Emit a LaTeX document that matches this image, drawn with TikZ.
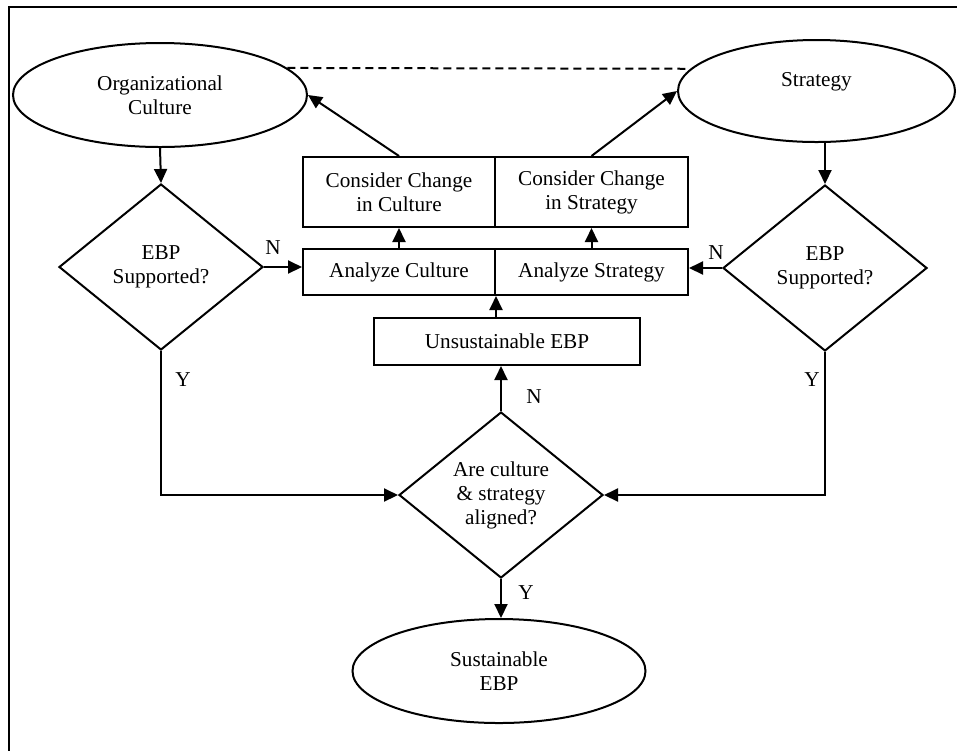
\documentclass[tikz,border=0pt]{standalone}
\usepackage{fontspec}
\setmainfont{Liberation Serif}
\usetikzlibrary{shapes.geometric,arrows.meta}
\begin{document}
\begin{tikzpicture}[x=0.5pt,y=-0.5pt,
  every node/.style={font=\fontsize{10.6}{12}\selectfont, inner sep=0pt, align=center},
  line/.style={line width=1pt},
  arr/.style={line, -{Triangle[length=7pt,width=6.5pt]}},
  oval/.style={draw, line width=1pt, ellipse},
  decision/.style={draw, line width=1pt, diamond, minimum width=102pt, minimum height=83pt},
  box/.style={draw, line width=1pt, rectangle}]
\useasboundingbox (0,0) rectangle (957,751);

% outer frame (top and left edges)
\draw[line] (957,7) -- (9,7) -- (9,751);

% terminals
\node[oval, minimum width=147pt, minimum height=52pt] (oc) at (160,95) {Organizational\\Culture};
\node[oval, minimum width=138.5pt, minimum height=51pt] (st) at (816.5,91) {Strategy\\\mbox{}};
\node[oval, minimum width=146.5pt, minimum height=52pt] (se) at (499,671) {Sustainable\\EBP};

% decisions
\node[decision] (ld) at (161,267) {EBP\\Supported?};
\node[decision] (rd) at (825,268) {EBP\\Supported?};
\node[decision] (cd) at (501,495) {Are culture\\\& strategy\\aligned?};

% process boxes
\node[box, minimum width=96pt, minimum height=35pt] (cc) at (399,192) {Consider Change\\in Culture};
\node[box, minimum width=96.5pt, minimum height=35pt] (cs) at (591.5,192) {Consider Change\\in Strategy};
\node[box, minimum width=96pt, minimum height=23pt] (ac) at (399,272) {Analyze Culture};
\node[box, minimum width=96.5pt, minimum height=23pt] (as) at (591.5,272) {Analyze Strategy};
\node[box, minimum width=133pt, minimum height=23.5pt] (ue) at (507,341.5) {Unsustainable EBP};

% branch labels
\node (n1) at (273,248) {N};
\node (n2) at (716,253) {N};
\node (n3) at (534,397) {N};
\node (y1) at (183,380) {Y};
\node (y2) at (812,380) {Y};
\node (y3) at (526,593) {Y};

% connectors
\draw[arr] (oc.south) -- (ld.north);
\draw[arr] (st.south -| rd.north) -- (rd.north);
\draw[arr] (ld.east) -- (ld.east -| ac.west);
\draw[arr] (rd.west) -- (rd.west -| as.east);
\draw[arr] (ac.north) -- (cc.south);
\draw[arr] (as.north) -- (cs.south);
\draw[arr] (ac.south east |- ue.north) -- (ac.south east);
\draw[arr] (cc.north) -- (oc.east);
\draw[arr] (cs.north) -- (st.west);
\draw[arr] (cd.north) -- (cd.north |- ue.south);
\draw[arr] (cd.south) -- (cd.south |- se.north);
\draw[arr] (ld.south) |- (cd.west);
\draw[arr] (rd.south) |- (cd.east);
\draw[line, dash pattern=on 4pt off 2.5pt] (oc.12) -- (st.170);
\end{tikzpicture}
\end{document}
